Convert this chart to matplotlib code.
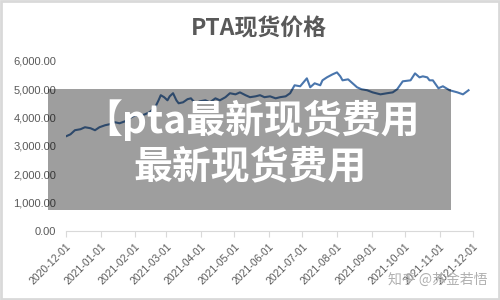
import matplotlib
matplotlib.use("Agg")
import matplotlib.pyplot as plt
import matplotlib.dates as mdates
from matplotlib.patches import Rectangle
from matplotlib.ticker import FuncFormatter
import pandas as pd

plt.rcParams['font.family'] = ['Noto Sans CJK SC', 'DejaVu Sans']

# PTA 现货价格 (元/吨)
dates = [
    "2020-12-01", "2020-12-05", "2020-12-09", "2020-12-14", "2020-12-18", "2020-12-23",
    "2020-12-27", "2020-12-31", "2021-01-05", "2021-01-09", "2021-01-14", "2021-01-18",
    "2021-01-23", "2021-01-27", "2021-02-01", "2021-02-05", "2021-02-10", "2021-02-14",
    "2021-02-19", "2021-02-22", "2021-02-24", "2021-02-27", "2021-03-02", "2021-03-04",
    "2021-03-07", "2021-03-10", "2021-03-12", "2021-03-16", "2021-03-20", "2021-03-23",
    "2021-03-27", "2021-03-31", "2021-04-05", "2021-04-09", "2021-04-14", "2021-04-18",
    "2021-04-23", "2021-04-27", "2021-05-02", "2021-05-06", "2021-05-11", "2021-05-15",
    "2021-05-20", "2021-05-24", "2021-05-28", "2021-06-02", "2021-06-07", "2021-06-11",
    "2021-06-16", "2021-06-20", "2021-06-24", "2021-06-29", "2021-07-02", "2021-07-05",
    "2021-07-08", "2021-07-12", "2021-07-17", "2021-07-19", "2021-07-23", "2021-07-28",
    "2021-08-01", "2021-08-04", "2021-08-06", "2021-08-11", "2021-08-15", "2021-08-19",
    "2021-08-23", "2021-08-28", "2021-09-02", "2021-09-09", "2021-09-15", "2021-09-20",
    "2021-09-24", "2021-09-29", "2021-10-06", "2021-10-10", "2021-10-14", "2021-10-17",
    "2021-10-21", "2021-10-23", "2021-10-26", "2021-10-31", "2021-11-04", "2021-11-10",
    "2021-11-17", "2021-11-22", "2021-11-27",
]
prices = [
    3340, 3410, 3555, 3590, 3660, 3625,
    3555, 3660, 3730, 3765, 3835, 3800,
    3870, 3980, 4080, 4050, 4120, 4190,
    4365, 4610, 4790, 4720, 4610, 4750,
    4860, 4610, 4505, 4540, 4650, 4680,
    4505, 4575, 4610, 4540, 4680, 4610,
    4720, 4860, 4820, 4890, 4790, 4720,
    4750, 4790, 4720, 4750, 4680, 4720,
    4750, 4860, 5140, 5105, 5245, 5385,
    5070, 5210, 5140, 5315, 5420, 5525,
    5595, 5455, 5315, 5350, 5210, 5070,
    5000, 4965, 4890, 4820, 4860, 4890,
    5000, 5280, 5315, 5560, 5420, 5455,
    5420, 5315, 5315, 5035, 5105, 4965,
    4890, 4820, 4965,
]
month_ticks = pd.date_range("2020-12-01", "2021-12-01", freq="MS")

title = "PTA现货价格"
overlay_line1 = "【pta最新现货费用"
overlay_line2 = "最新现货费用"
watermark = "知乎 @苏金若悟"

fig = plt.figure(figsize=(5, 3), dpi=100)
ax = fig.add_axes([0.132, 0.23, 0.814, 0.567])

ax.plot(pd.to_datetime(dates), prices, color='#4a76ad', lw=1.5)

ax.set_ylim(0, 6000)
ax.set_yticks(range(0, 7000, 1000))
ax.yaxis.set_major_formatter(FuncFormatter(lambda v, p: f"{v:,.2f}"))
ax.set_xlim(month_ticks[0], month_ticks[-1])
ax.set_xticks(month_ticks)
ax.xaxis.set_major_formatter(mdates.DateFormatter("%Y-%m-%d"))

for s in ['top', 'right', 'left']:
    ax.spines[s].set_visible(False)
ax.spines['bottom'].set_color('#d9d9d9')
ax.tick_params(axis='y', length=0, labelsize=8, labelcolor='#595959', pad=7)
ax.tick_params(axis='x', length=4, color='#d9d9d9', labelsize=7.5, labelcolor='#595959')
for lab in ax.get_yticklabels():
    lab.set_family(['Liberation Sans', 'DejaVu Sans'])
for lab in ax.get_xticklabels():
    lab.set_family(['Liberation Sans', 'DejaVu Sans'])
    lab.set_rotation(45)
    lab.set_ha('right')
    lab.set_rotation_mode('anchor')

fig.text(0.518, 0.905, title, ha='center', va='center', fontsize=16.5,
         color='#595959', fontweight='semibold')

# 半透明灰色遮罩
fig.add_artist(Rectangle((0.096, 0.30), 0.806, 0.403, transform=fig.transFigure,
                         facecolor='black', alpha=0.38, edgecolor='none', zorder=5))
fig.text(0.503, 0.60, overlay_line1, ha='center', va='center', fontsize=28,
         color='white', fontweight='heavy', zorder=6)
fig.text(0.50, 0.44, overlay_line2, ha='center', va='center', fontsize=28,
         color='white', fontweight='heavy', zorder=6)

fig.text(0.976, 0.067, watermark, ha='right', va='center', fontsize=10,
         color='#b0b0b0', zorder=6)

# 外边框
fig.add_artist(Rectangle((0.002, 0.004), 0.996, 0.992, transform=fig.transFigure,
                         facecolor='none', edgecolor='#d9d9d9', lw=2))

fig.savefig("out.png", dpi=100)
